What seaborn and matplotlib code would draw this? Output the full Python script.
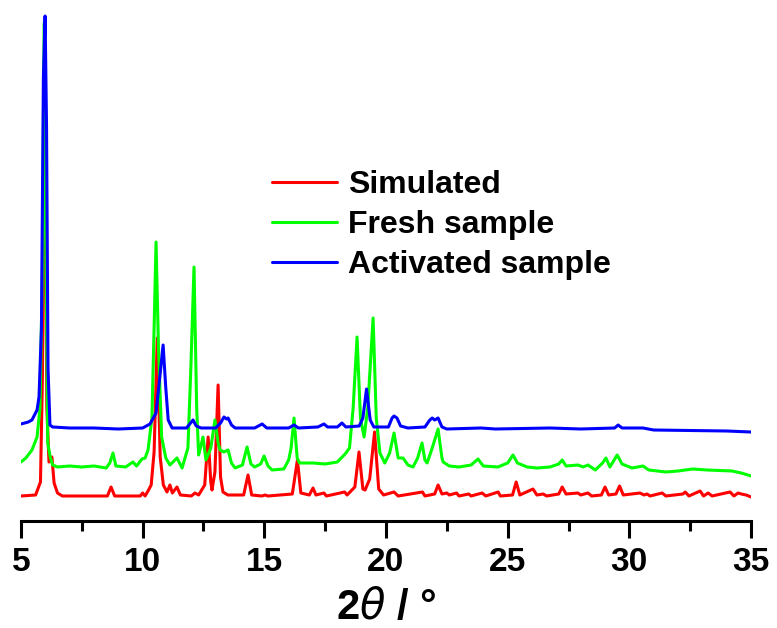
import matplotlib
matplotlib.use("Agg")
import matplotlib.pyplot as plt
import seaborn as sns
import pandas as pd

# ---- data (2theta in degrees, intensity in arbitrary units above each pattern's own baseline) ----
sim_2theta = [5.0, 5.6, 5.8, 5.88, 5.97, 6.06, 6.15, 6.27, 6.36, 6.5, 6.7,
              8.55, 8.70, 8.85, 9.9, 10.0, 10.1, 10.22, 10.35, 10.47, 10.6, 10.72, 10.85, 11.0, 11.12, 11.22,
              11.41, 11.55, 12.0, 12.15, 12.3, 12.55, 12.69, 12.8, 12.85, 12.97, 13.1, 13.2, 13.3, 13.5,
              14.15, 14.33, 14.48, 14.9, 15.03, 15.15, 16.15, 16.36, 16.5, 16.85, 17.0, 17.12, 17.45, 17.55,
              18.3, 18.4, 18.72, 18.89, 19.05, 19.14, 19.33, 19.53, 19.7, 19.9, 20.33, 20.5, 21.5, 21.6,
              22.0, 22.14, 22.3, 22.5, 22.6, 22.9, 23.0, 23.4, 23.5, 23.95, 24.1, 24.61, 24.7, 25.2, 25.35,
              25.5, 26.04, 26.2, 26.46, 26.6, 27.1, 27.24, 27.4, 27.89, 28.0, 28.3, 28.45, 28.85, 29.0,
              29.15, 29.45, 29.6, 29.75, 30.44, 30.6, 30.73, 30.85, 31.35, 31.5, 32.2, 32.3, 32.45, 32.91,
              33.05, 33.24, 33.4, 34.14, 34.3, 34.47, 34.6, 34.8, 35.0]
sim_int = [1, 2, 15, 120, 440, 90, 35, 40, 14, 4, 1,
           1, 10, 1, 1, 4, 1, 6, 12, 45, 159, 40, 12, 5, 12, 4,
           10, 2, 1, 4, 2, 12, 60, 15, 7, 25, 112, 20, 5, 2,
           2, 22, 2, 1, 2, 1, 3, 37, 4, 2, 9, 2, 4, 1,
           5, 2, 10, 45, 8, 7, 18, 65, 8, 2, 5, 1, 5, 1,
           3, 12, 3, 4, 2, 4, 1, 3, 1, 4, 1, 5, 1, 2, 15,
           2, 8, 2, 3, 1, 3, 10, 3, 4, 2, 4, 1, 2, 10,
           2, 3, 11, 2, 4, 2, 3, 1, 4, 1, 3, 5, 1, 6,
           1, 4, 1, 5, 1, 4, 3, 2, 0]

fresh_2theta = [5.0, 5.2, 5.45, 5.66, 5.78, 5.88, 5.95, 6.03, 6.1, 6.2, 6.3, 6.5, 7.0, 7.5, 8.0, 8.5,
                8.65, 8.78, 8.9, 9.3, 9.6, 9.75, 9.97, 10.1, 10.22, 10.38, 10.48, 10.55, 10.65, 10.78,
                10.95, 11.12, 11.41, 11.62, 11.86, 11.98, 12.11, 12.22, 12.3, 12.48, 12.6, 12.8, 12.97,
                13.1, 13.18, 13.34, 13.51, 13.65, 13.8, 14.1, 14.29, 14.45, 14.6, 14.85, 14.99, 15.15,
                15.32, 15.8, 16.0, 16.1, 16.22, 16.35, 16.45, 17.0, 17.5, 18.0, 18.32, 18.5, 18.65, 18.81,
                18.95, 19.1, 19.25, 19.47, 19.6, 19.75, 19.95, 20.15, 20.33, 20.5, 20.7, 20.9, 21.11,
                21.3, 21.48, 21.6, 21.69, 21.9, 22.14, 22.3, 22.35, 22.6, 23.0, 23.5, 23.78, 24.0, 24.6,
                25.0, 25.22, 25.4, 25.8, 26.2, 26.74, 27.1, 27.24, 27.4, 27.89, 28.1, 28.3, 28.6, 28.9,
                29.04, 29.2, 29.5, 29.7, 30.11, 30.56, 30.8, 31.5, 32.0, 32.6, 33.2, 34.22, 34.6, 35.0]
fresh_int = [6, 10, 18, 31, 60, 200, 445, 200, 25, 11, 3, 1, 2, 1, 2, 0,
             5, 15, 2, 1, 6, 2, 9, 10, 18, 50, 150, 226, 120, 31,
             10, 3, 10, 0, 20, 100, 201, 60, 13, 31, 8, 20, 48,
             25, 18, 16, 18, 5, 0, 3, 21, 4, 1, 4, 12, 2,
             -2, -1, 8, 20, 50, 10, 5, 5, 4, 6, 14, 20, 60, 131,
             50, 31, 60, 150, 50, 15, 5, 15, 35, 10, 10, 3, 1,
             10, 25, 8, 5, 20, 39, 10, 6, 2, 1, 3, 9, 2, 1,
             5, 13, 5, 1, 0, 1, 4, 8, 2, 3, 1, 3, -2, 5,
             10, 1, 13, 4, 0, 2, -2, -4, -3, -1, -2, -3, -5, -8]

act_2theta = [5.0, 5.3, 5.45, 5.66, 5.74, 5.84, 5.92, 5.99, 6.05, 6.11, 6.19, 6.3, 7.0, 8.0, 9.0, 10.0,
              10.3, 10.55, 10.7, 10.84, 10.95, 11.05, 11.21, 11.8, 12.07, 12.2, 12.4, 13.0, 13.2, 13.34,
              13.45, 13.51, 13.65, 13.8, 14.6, 14.91, 15.1, 16.0, 16.22, 16.4, 17.2, 17.45, 17.6, 18.0,
              18.19, 18.35, 18.9, 19.05, 19.2, 19.35, 19.5, 20.1, 20.25, 20.33, 20.45, 20.6, 20.9, 21.6,
              21.8, 21.9, 22.0, 22.14, 22.3, 22.5, 23.9, 24.5, 26.74, 28.0, 29.4, 29.54, 29.7, 30.56,
              31.0, 34.0, 35.0]
act_int = [4, 6, 8, 18, 31, 100, 350, 412, 300, 60, 3, 1, 0, 0, -1, 0,
           4, 15, 50, 83, 40, 8, 0, 0, 8, 2, 0, 0, 5, 11,
           9, 10, 3, 0, 0, 4, 0, 0, 3, 0, 1, 4, 1, 1,
           5, 1, 2, 10, 39, 8, 1, 1, 10, 12, 10, 2, 0, 1,
           8, 10, 8, 10, 1, -1, 0, -1, 0, -1, 0, 3, 0, 0,
           -2, -3, -4]

labels = ["Simulated", "Fresh sample", "Activated sample"]
offsets = [24, 53, 93]
colors = ["#FF0000", "#00FF00", "#0000FF"]
x_ticks = [5, 10, 15, 20, 25, 30, 35]

frames = []
for name, xs, ys, off in zip(labels, [sim_2theta, fresh_2theta, act_2theta],
                             [sim_int, fresh_int, act_int], offsets):
    frames.append(pd.DataFrame({"2theta": xs, "intensity": [v + off for v in ys], "pattern": name}))
df = pd.concat(frames, ignore_index=True)

sns.set_style("ticks")
plt.rcParams["font.family"] = ["Liberation Sans", "DejaVu Sans"]
plt.rcParams.update({"text.color": "black", "axes.labelcolor": "black",
                     "xtick.color": "black", "axes.edgecolor": "black"})

fig = plt.figure(figsize=(7.77, 6.28), dpi=100)
ax = fig.add_axes([21 / 777, 107 / 628, 730 / 777, (628 - 14 - 107) / 628])

sns.lineplot(data=df, x="2theta", y="intensity", hue="pattern", hue_order=labels,
             palette=colors, sort=False, estimator=None, linewidth=2.2, ax=ax)

ax.set_xlim(5, 35)
ax.set_ylim(0, 507)
ax.set_yticks([])
ax.set_ylabel("")
ax.set_xticks(x_ticks)
ax.set_xticks([7.5, 12.5, 17.5, 22.5, 27.5, 32.5], minor=True)
ax.set_xticklabels([str(t) for t in x_ticks], fontsize=24, fontweight="bold")
ax.tick_params(axis="x", which="major", length=12, width=2.2, direction="out", pad=7, colors="black")
ax.tick_params(axis="x", which="minor", length=7, width=2.2, direction="out", colors="black")
for s in ["left", "top", "right"]:
    ax.spines[s].set_visible(False)
ax.spines["bottom"].set_linewidth(2.2)
ax.spines["bottom"].set_color("black")
ax.set_xlabel(r"2$\theta$ / °", fontsize=30, fontweight="bold", labelpad=7, color="black")

handles, labs = ax.get_legend_handles_labels()
leg = ax.legend(handles, labs, loc="upper left", bbox_to_anchor=(272 / 777, 1 - 170 / 628),
                bbox_transform=fig.transFigure, frameon=False, borderpad=0, borderaxespad=0,
                handlelength=2.05, handletextpad=0.32, labelspacing=0.32,
                prop={"family": "Liberation Sans", "weight": "bold", "size": 23})
for t in leg.get_texts():
    t.set_color("black")

fig.savefig("out.png", dpi=100)
